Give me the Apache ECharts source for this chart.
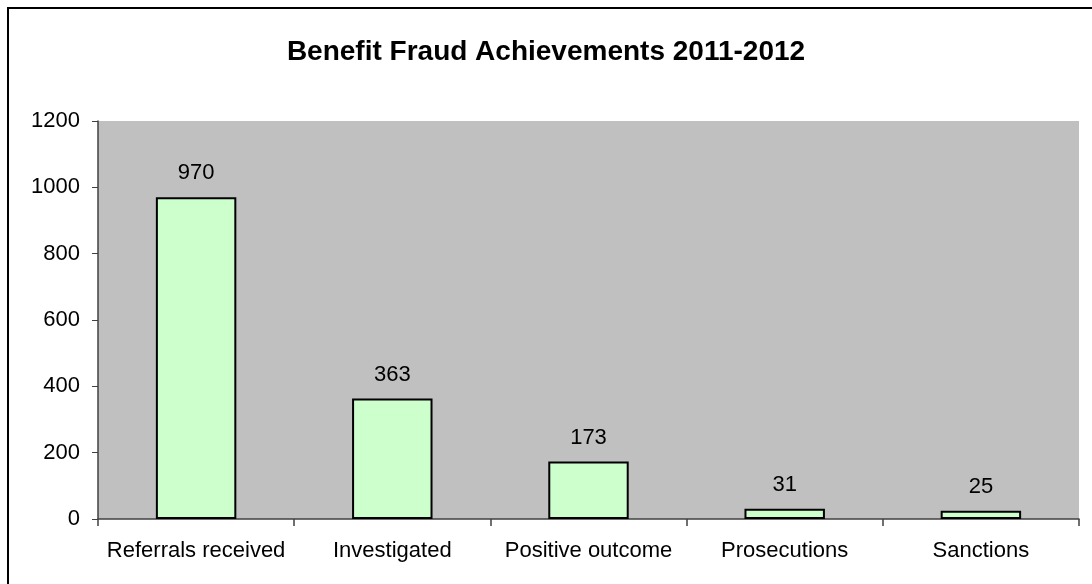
<!DOCTYPE html>
<html>
<head>
<meta charset="utf-8">
<script src="https://cdn.jsdelivr.net/npm/echarts@6/dist/echarts.min.js"></script>
<style>
html, body { margin: 0; padding: 0; background: #fff; overflow: hidden; }
.frame {
    position: absolute;
    left: 7px;
    top: 7px;
    width: 1100px;
    height: 600px;
    border: 2px solid #000;
}
#chart { position: absolute; left: 0; top: 0; width: 1092px; height: 584px; }
</style>
</head>
<body>
<div class="frame"></div>
<div id="chart"></div>
<script>
// categories and values
var categories = ['Referrals received', 'Investigated', 'Positive outcome', 'Prosecutions', 'Sanctions'];
var values = [970, 363, 173, 31, 25];
var yTicks = { min: 0, max: 1200, step: 200 };

var myChart = echarts.init(document.getElementById('chart'));
myChart.setOption({
    animation: false,
    textStyle: { fontFamily: 'Liberation Sans, Arial, sans-serif' },
    title: {
        text: 'Benefit Fraud Achievements 2011-2012',
        left: 'center',
        top: 33,
        textStyle: {
            fontFamily: 'Liberation Sans, Arial, sans-serif',
            fontSize: 28,
            fontWeight: 'bold',
            color: '#000'
        }
    },
    grid: {
        left: 98,
        right: 13,
        top: 121,
        bottom: 65,
        show: true,
        backgroundColor: '#c0c0c0',
        borderWidth: 0
    },
    xAxis: {
        type: 'category',
        data: categories,
        axisLine: { show: true, lineStyle: { color: '#404040', width: 1.5 } },
        axisTick: { show: true, length: 7, lineStyle: { color: '#404040', width: 1.5 } },
        axisLabel: {
            interval: 0,
            margin: 21,
            fontSize: 22,
            color: '#000'
        },
        splitLine: { show: false }
    },
    yAxis: {
        type: 'value',
        min: yTicks.min,
        max: yTicks.max,
        interval: yTicks.step,
        axisLine: { show: true, lineStyle: { color: '#404040', width: 1.5 } },
        axisTick: { show: true, length: 6, lineStyle: { color: '#404040', width: 1 } },
        axisLabel: {
            margin: 18,
            fontSize: 22,
            color: '#000',
            formatter: function (v) { return String(v); }
        },
        splitLine: { show: false }
    },
    series: [{
        type: 'bar',
        data: values,
        barWidth: '41%',
        itemStyle: {
            color: '#ccffcc',
            borderColor: '#000',
            borderWidth: 2
        },
        label: {
            show: true,
            position: 'top',
            distance: 13,
            fontSize: 22,
            color: '#000'
        }
    }]
});
</script>
</body>
</html>
